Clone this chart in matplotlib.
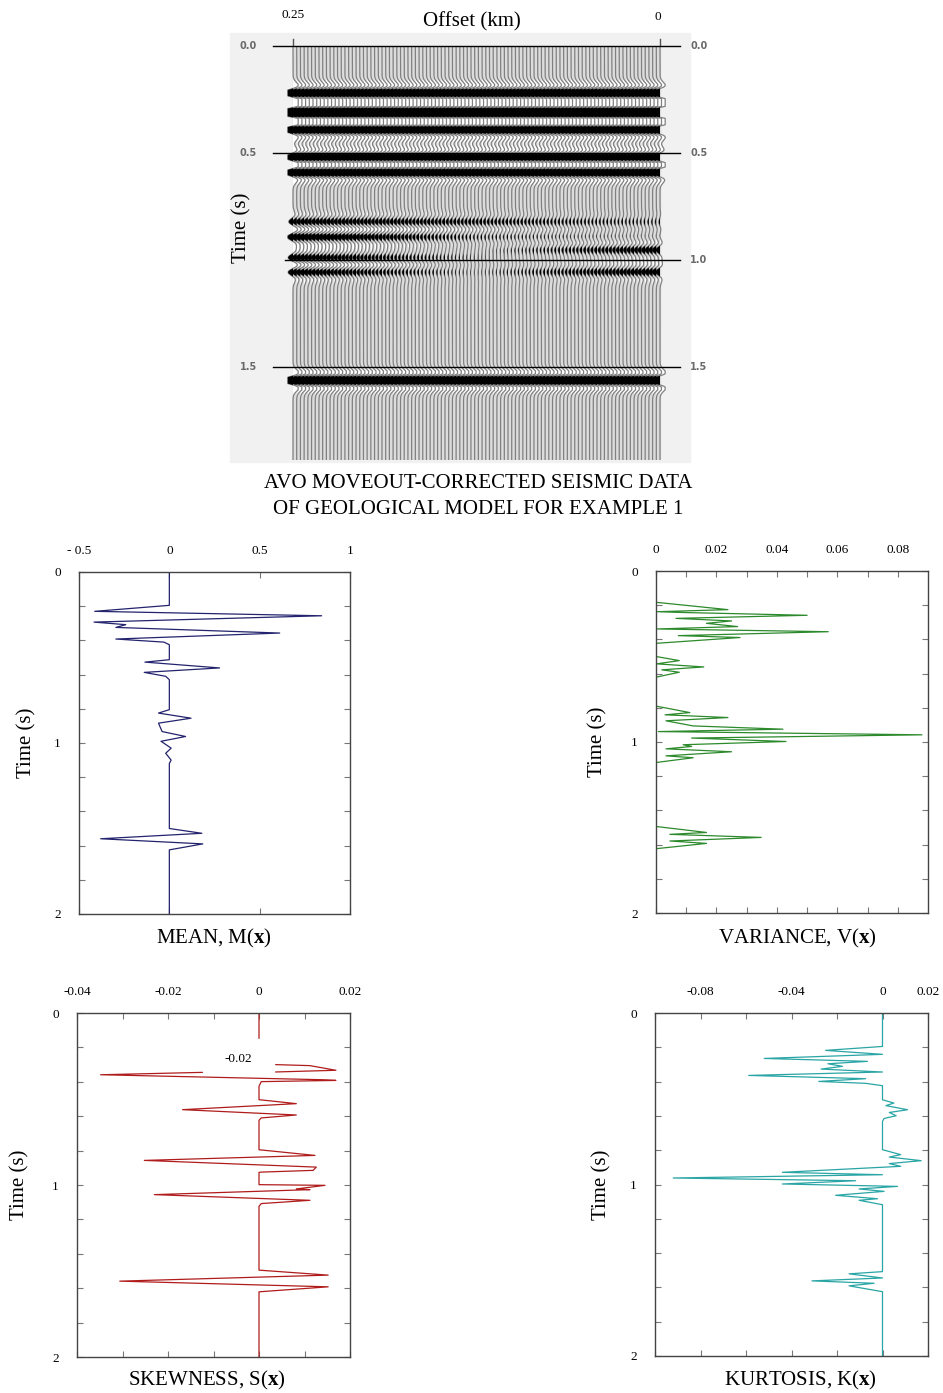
import matplotlib.pyplot as plt
from matplotlib.patches import Rectangle
import numpy as np

plt.rcParams['font.family'] = 'Liberation Serif'
plt.rcParams['mathtext.fontset'] = 'custom'
plt.rcParams['mathtext.rm'] = 'Liberation Serif'
plt.rcParams['mathtext.bf'] = 'Liberation Serif:bold'
plt.rcParams['axes.unicode_minus'] = False

# ---- statistics (time in s, value) ----
mean_t = [0.0, 0.195, 0.23, 0.256, 0.293, 0.308, 0.324, 0.357, 0.392, 0.41, 0.425,
          0.513, 0.527, 0.561, 0.587, 0.61, 0.63,
          0.805, 0.825, 0.855, 0.884, 0.933, 0.962, 0.99, 1.03, 1.06, 1.1, 1.12,
          1.5, 1.528, 1.56, 1.59, 1.625, 2.0]
mean_v = [0.0, 0.0, -0.413, 0.843, -0.417, -0.241, -0.296, 0.611, -0.296, -0.03, 0.0,
          0.0, -0.135, 0.278, -0.139, -0.02, 0.0,
          0.0, -0.06, 0.12, -0.06, -0.04, 0.09, -0.046, 0.01, -0.02, 0.01, 0.0,
          0.0, 0.18, -0.38, 0.185, 0.0, 0.0]

var_t = [0.0, 0.183, 0.226, 0.238, 0.242, 0.259, 0.277, 0.292, 0.306, 0.325, 0.339, 0.355, 0.378, 0.389, 0.423,
         0.50, 0.524, 0.543, 0.561, 0.578, 0.592, 0.621,
         0.79, 0.828, 0.841, 0.857, 0.876, 0.906, 0.925, 0.939, 0.958, 0.977, 0.997, 1.016, 1.026, 1.04, 1.057, 1.081, 1.092, 1.12,
         1.494, 1.529, 1.54, 1.558, 1.579, 1.593, 1.624, 2.0]
var_v = [0.0, 0.0, 0.0238, 0.0005, 0.0074, 0.050, 0.0066, 0.025, 0.0167, 0.027, 0.0002, 0.057, 0.0074, 0.0278, 0.0,
         0.0, 0.0077, 0.0002, 0.0158, 0.0019, 0.0077, 0.0,
         0.0, 0.0112, 0.003, 0.0238, 0.0033, 0.0123, 0.042, 0.0008, 0.088, 0.0118, 0.043, 0.009, 0.0118, 0.0033, 0.025, 0.0033, 0.0123, 0.0,
         0.0, 0.0167, 0.0046, 0.0348, 0.0046, 0.0167, 0.0, 0.0]

skew_t = [0.0, 0.28, 0.300, 0.306, 0.333, 0.343, 0.345, 0.359, 0.388, 0.392, 0.399, 0.426,
          0.504, 0.527, 0.562, 0.593, 0.61, 0.624,
          0.795, 0.828, 0.857, 0.896, 0.915, 0.925, 0.927,
          0.998, 1.002, 1.023, 1.027, 1.056, 1.089, 1.108, 1.124,
          1.495, 1.524, 1.559, 1.592, 1.621, 2.0]
skew_v = [0.0, 0.0, 0.0035, 0.0112, 0.0169, 0.0035, -0.0121, -0.0348, 0.0141, 0.0169, 0.0005, 0.0,
          0.0, 0.0082, -0.0168, 0.0082, 0.0005, 0.0,
          0.0, 0.0123, -0.0252, 0.0126, 0.0119, 0.0005, 0.0,
          0.0, 0.0145, 0.0082, 0.0112, -0.023, 0.0112, 0.0005, 0.0,
          0.0, 0.0152, -0.0306, 0.0152, 0.0, 0.0]

kurt_t = [0.0, 0.195, 0.218, 0.241, 0.265, 0.282, 0.296, 0.311, 0.327, 0.344, 0.364, 0.383, 0.399, 0.41, 0.424,
          0.506, 0.525, 0.54, 0.564, 0.58, 0.599, 0.615, 0.632,
          0.797, 0.826, 0.84, 0.861, 0.878, 0.894, 0.929, 0.943, 0.962, 0.978, 0.997, 1.011, 1.026, 1.04, 1.063, 1.083, 1.092, 1.118,
          1.508, 1.521, 1.545, 1.562, 1.576, 1.591, 1.625, 2.0]
kurt_v = [0.0, 0.0, -0.025, 0.0, -0.052, -0.0066, -0.024, -0.0176, -0.027, 0.0, -0.0588, -0.0074, -0.028, -0.0074, 0.0,
          0.0, 0.005, 0.0015, 0.011, 0.003, 0.006, 0.0007, 0.0,
          0.0, 0.008, 0.003, 0.017, 0.003, 0.008, -0.044, 0.0, -0.092, -0.0118, -0.044, 0.0066, -0.0103, 0.0007, -0.0206, -0.0022, -0.0103, 0.0,
          0.0, -0.0147, 0.0, -0.031, -0.0037, -0.0147, 0.0, 0.0]

# ---- seismic section: reflector times and amplitudes at far / mid / near offset ----
refl_time = [0.22, 0.301, 0.321, 0.39, 0.521, 0.59, 0.822, 0.892, 0.953, 0.99, 1.056, 1.5625]
amp_far = [0.8, 0.85, 0.85, 0.8, 0.6, 0.7, 0.3, 0.4, 0.0, 0.35, 0.35, 0.9]
amp_mid = [0.8, 0.85, 0.85, 0.8, 0.6, 0.7, 0.18, 0.1, 0.02, 0.04, 0.02, 0.9]
amp_near = [0.8, 0.85, 0.85, 0.8, 0.6, 0.7, 0.08, 0.04, 0.3, 0.03, 0.3, 0.9]
seis_ticks = [0.0, 0.5, 1.0, 1.5]
seis_left_labels = ['0.0', '0.5', '', '1.5']
seis_right_labels = ['0.0', '0.5', '1.0', '1.5']

W, H = 943, 1393
fig = plt.figure(figsize=(W / 100, H / 100), dpi=100)


def place(l, t, r, b):
    return fig.add_axes([l / W, 1 - b / H, (r - l) / W, (b - t) / H])


def put(x, y, s, **kw):
    fig.text(x / W, 1 - y / H, s, ha='center', va='center', **kw)


# light backdrop behind the scanned section
fig.patches.append(Rectangle((230 / W, 1 - 462 / H), 460 / W, 429 / H,
                             transform=fig.transFigure, color='#f1f1f1', zorder=-5))

# ---------------- seismic panel ----------------
def px2off(px):
    return 0.25 - (px - 293) / 1468.0

t_max = (460 - 46) / 214.0
ax = place(285, 46, 668, 460)
ax.set_xlim(px2off(285), px2off(668))
ax.set_ylim(t_max, 0)
ax.axis('off')
ax.axvspan(0, 0.25, color='#dcdcdc', zorder=0)

n_traces = 100
offsets = np.linspace(0.25, 0.0, n_traces)
spacing = 0.25 / (n_traces - 1)
tt = np.arange(0, t_max, 0.0005)
f0 = 10.5
gain = 4.0
clip = 1.4
for off in offsets:
    s = np.zeros_like(tt)
    for k, tk in enumerate(refl_time):
        a = np.interp(off, [0.0, 0.125, 0.25], [amp_near[k], amp_mid[k], amp_far[k]])
        arg = (np.pi * f0 * (tt - tk)) ** 2
        s += a * (1 - 2 * arg) * np.exp(-arg)
    x = off + spacing * np.clip(gain * s, -clip, clip)
    ax.fill_betweenx(tt, off, x, where=s < 0, color='white', lw=0, interpolate=True, zorder=1)
    ax.plot(x, tt, color='#808080', lw=0.9, zorder=2)
    ax.fill_betweenx(tt, off, x, where=s > 0, color='black', lw=0, interpolate=True, zorder=3)

for i, tk in enumerate(seis_ticks):
    x0 = 0.0 if tk == 1.0 else -0.031
    ax.axhline(tk, x0, 1.031, color='black', lw=1.0, clip_on=False, zorder=4)
    if seis_left_labels[i]:
        ax.text(-0.095, tk, seis_left_labels[i], transform=ax.get_yaxis_transform(),
                ha='center', va='center', fontsize=7, family='DejaVu Sans',
                weight='bold', color='#6a6a6a')
    ax.text(1.08, tk, seis_right_labels[i], transform=ax.get_yaxis_transform(),
            ha='center', va='center', fontsize=7, family='DejaVu Sans',
            weight='bold', color='#6a6a6a')
for off in [0.25, 0.0]:
    ax.plot([off, off], [-0.035, -0.006], color='#555555', lw=1.0, clip_on=False)

put(293, 15, '0.25', fontsize=9.5)
put(658, 17, '0', fontsize=9.5)
put(472, 22, 'Offset (km)', fontsize=15)
put(242, 228, 'Time (s)', fontsize=15, rotation=90)
put(478, 483, 'AVO MOVEOUT-CORRECTED SEISMIC DATA', fontsize=15)
put(478, 509, 'OF GEOLOGICAL MODEL FOR EXAMPLE 1', fontsize=15)


# ---------------- statistic panels ----------------
def stat_panel(box, t, v, color, xlim, xticks, xlabels, xminor, title, title_xy, ylab_x):
    a = place(*box)
    a.plot(v, t, color=color, lw=0.9)
    a.set_xlim(xlim)
    a.set_ylim(2, 0)
    a.xaxis.tick_top()
    a.set_xticks(xticks)
    a.set_xticklabels(xlabels)
    a.set_xticks(xminor, minor=True)
    a.set_yticks([0, 1, 2])
    a.set_yticklabels(['0', '1', '2'])
    a.set_yticks([0.2, 0.4, 0.6, 0.8, 1.2, 1.4, 1.6, 1.8], minor=True)
    a.tick_params(which='both', direction='in', top=True, bottom=True, left=True, right=True,
                  length=4, width=0.8, color='#777777', labelsize=9.5)
    a.tick_params(axis='x', pad=11)
    a.tick_params(axis='y', pad=13)
    for sp in a.spines.values():
        sp.set_color('#444444')
        sp.set_linewidth(1.0)
    put(title_xy[0], title_xy[1], title, fontsize=15)
    put(ylab_x, (box[1] + box[3]) / 2, 'Time (s)', fontsize=15, rotation=90)
    return a


stat_panel((79, 572, 350, 914), mean_t, mean_v, '#23236e', (-0.5, 1.0),
           [-0.5, 0, 0.5, 1.0], ['- 0.5', '0', '0.5', '1'], [],
           r'MEAN, M($\mathbf{x}$)', (214, 938), 27)
stat_panel((656, 571, 928, 913), var_t, var_v, '#2c8a2c', (0, 0.09),
           [0, 0.02, 0.04, 0.06, 0.08], ['0', '0.02', '0.04', '0.06', '0.08'],
           [0.01, 0.03, 0.05, 0.07], r'VARIANCE, V($\mathbf{x}$)', (797, 938), 598)
ax_s = stat_panel((77, 1013, 350, 1357), skew_t, skew_v, '#b01c1c', (-0.04, 0.02),
                  [-0.04, -0.02, 0, 0.02], ['-0.04', '-0.02', '0', '0.02'],
                  [-0.03, -0.01, 0.01], r'SKEWNESS, S($\mathbf{x}$)', (207, 1380), 20)
ax_s.add_patch(Rectangle((-0.0122, 0.15), 0.0155, 0.195, color='white', zorder=5))
ax_s.text(-0.0045, 0.265, '-0.02', ha='center', va='center', fontsize=9.5, zorder=6)
stat_panel((655, 1013, 928, 1356), kurt_t, kurt_v, '#2aa5a5', (-0.1, 0.02),
           [-0.08, -0.04, 0, 0.02], ['-0.08', '-0.04', '0', '0.02'],
           [-0.1, -0.06, -0.02], r'KURTOSIS, K($\mathbf{x}$)', (800, 1380), 602)

fig.savefig('out.png', dpi=100)
